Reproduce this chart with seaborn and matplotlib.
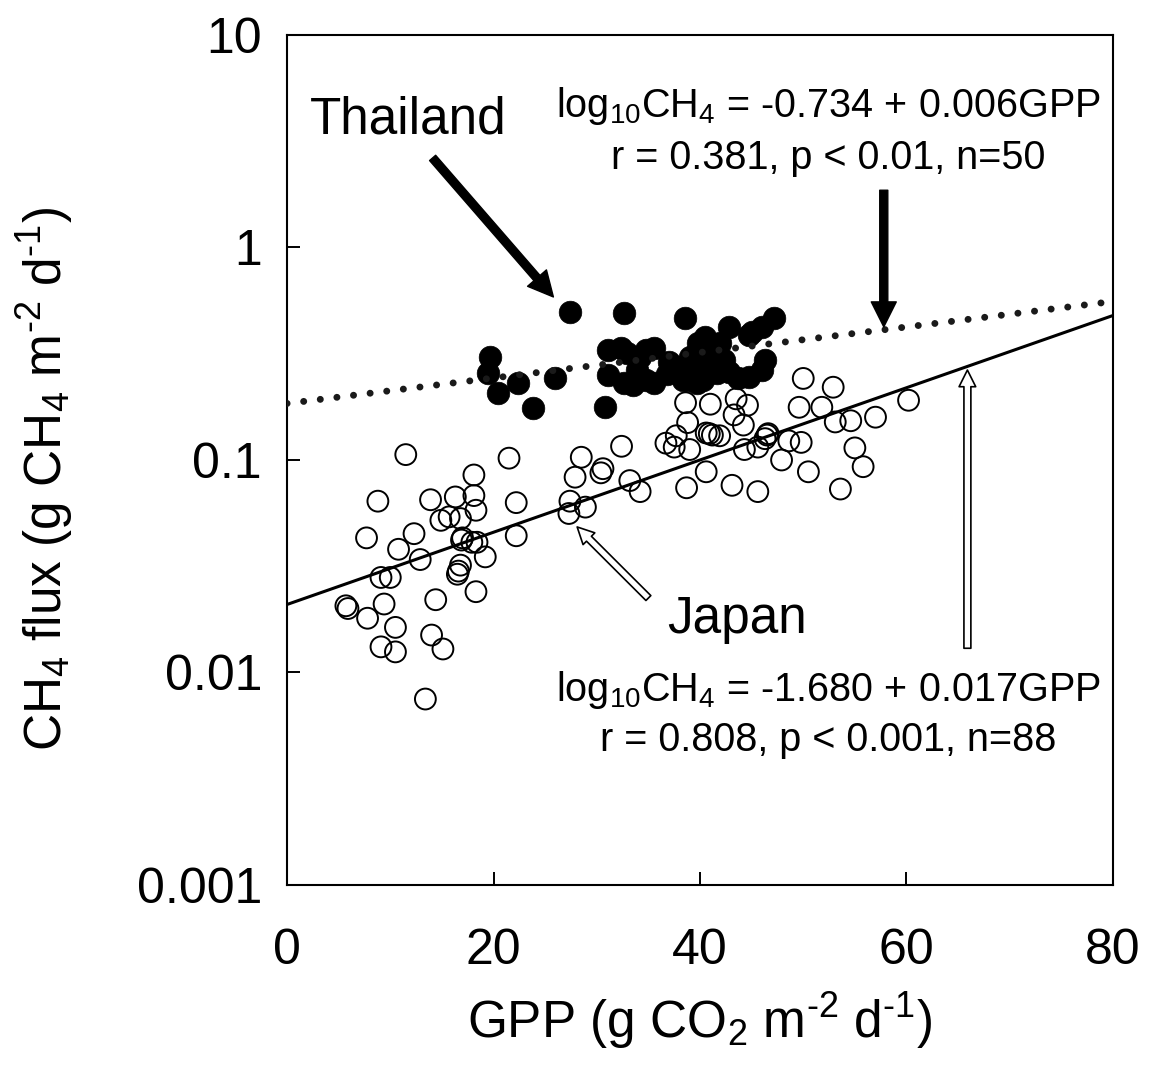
import numpy as np
import pandas as pd
import matplotlib
matplotlib.use("Agg")
import matplotlib.pyplot as plt
import seaborn as sns
from matplotlib.ticker import FixedLocator, FixedFormatter, NullLocator

# ---------------- data ----------------
japan_gpp = [11.5, 21.5, 18.1, 8.8, 13.9, 16.3, 18.1, 22.2, 18.3, 14.9,
             15.7, 16.8, 7.7, 12.3, 10.8, 22.2, 16.9, 17.9, 18.4, 19.2,
             12.9, 9.1, 10.0, 16.8, 16.5, 18.3, 5.7, 5.9, 9.4, 7.8,
             14.4, 10.5, 9.1, 10.5, 14.0, 15.1, 13.4,
             50.0, 52.9, 38.6, 41.0, 43.5, 44.6, 49.6, 51.8, 60.2,
             38.8, 43.3, 44.2, 53.1, 54.6, 57.0,
             37.7, 36.7, 37.5, 39.0, 40.6, 41.2, 41.9, 46.5, 46.3,
             44.3, 45.6, 48.6, 49.8, 55.0, 47.9, 50.5, 55.8,
             40.6, 38.7, 43.1, 45.6, 53.6,
             32.4, 28.5, 27.9, 30.4, 30.6, 33.2, 34.2, 27.4, 28.9, 27.3,
             17.0, 40.9, 16.6, 46.6]
japan_ch4 = [0.106, 0.102, 0.085, 0.064, 0.065, 0.067, 0.068, 0.063, 0.058, 0.052,
             0.054, 0.053, 0.043, 0.045, 0.038, 0.044, 0.042, 0.041, 0.041, 0.035,
             0.034, 0.028, 0.028, 0.032, 0.029, 0.024, 0.0206, 0.0200, 0.021, 0.018,
             0.022, 0.0163, 0.0132, 0.0125, 0.015, 0.0129, 0.0075,
             0.242, 0.220, 0.186, 0.183, 0.194, 0.181, 0.177, 0.177, 0.191,
             0.150, 0.163, 0.146, 0.151, 0.153, 0.159,
             0.130, 0.120, 0.115, 0.112, 0.134, 0.131, 0.130, 0.131, 0.126,
             0.112, 0.115, 0.123, 0.121, 0.114, 0.100, 0.088, 0.093,
             0.088, 0.074, 0.076, 0.071, 0.073,
             0.116, 0.103, 0.083, 0.087, 0.091, 0.080, 0.071, 0.064, 0.060, 0.056,
             0.043, 0.133, 0.030, 0.133]

thai_gpp = [19.7, 19.5, 20.4, 22.4, 23.8, 26.0, 27.4, 30.8, 31.1, 32.3,
            31.1, 32.6, 32.6, 32.9, 33.9, 34.2, 34.8, 35.5, 34.8, 35.5,
            37.9, 38.1, 38.4, 38.5, 39.0, 39.7, 39.8, 40.3, 40.5, 40.6,
            41.3, 41.6, 41.6, 41.9, 42.3, 42.8, 43.7, 44.7, 44.7, 46.0,
            46.3, 46.0, 47.2, 38.7, 36.8, 33.5, 40.0, 42.8, 37.0, 45.0]
thai_ch4 = [0.306, 0.256, 0.206, 0.231, 0.175, 0.242, 0.499, 0.178, 0.330, 0.336,
            0.251, 0.230, 0.490, 0.318, 0.265, 0.306, 0.330, 0.336, 0.238, 0.230,
            0.275, 0.256, 0.238, 0.464, 0.306, 0.230, 0.354, 0.238, 0.380, 0.318,
            0.306, 0.348, 0.256, 0.354, 0.296, 0.424, 0.242, 0.388, 0.247, 0.424,
            0.296, 0.265, 0.464, 0.238, 0.255, 0.225, 0.270, 0.260, 0.290, 0.400]

# regression coefficients (log10 CH4 = a + b * GPP)
thai_fit = (-0.734, 0.006)
japan_fit = (-1.680, 0.017)
fit_x = [0, 80]

y_ticks = [0.001, 0.01, 0.1, 1, 10]
y_tick_labels = ["0.001", "0.01", "0.1", "1", "10"]
x_ticks = [0, 20, 40, 60, 80]
x_tick_labels = ["0", "20", "40", "60", "80"]

# ---------------- style ----------------
sns.set_theme(style="ticks")
plt.rcParams["font.family"] = ["Liberation Sans", "DejaVu Sans"]
plt.rcParams["mathtext.fontset"] = "custom"
plt.rcParams["mathtext.rm"] = "Liberation Sans"
plt.rcParams["mathtext.it"] = "Liberation Sans:italic"
plt.rcParams["mathtext.bf"] = "Liberation Sans:bold"
for k in ["text.color", "axes.labelcolor", "xtick.color", "ytick.color", "axes.edgecolor"]:
    plt.rcParams[k] = "black"

fig = plt.figure(figsize=(11.5, 10.77), dpi=100)
ax = fig.add_axes([0.2496, 0.1783, 0.7182, 0.7892])

df_j = pd.DataFrame({"GPP": japan_gpp, "CH4": japan_ch4})
df_t = pd.DataFrame({"GPP": thai_gpp, "CH4": thai_ch4})

sns.scatterplot(data=df_j, x="GPP", y="CH4", ax=ax, marker="o",
                facecolor="none", edgecolor="black", linewidth=1.4, zorder=3)
ax.collections[-1].set_sizes([225])
sns.scatterplot(data=df_t, x="GPP", y="CH4", ax=ax, marker="o",
                color="black", edgecolor="black", linewidth=0.5, zorder=3)
ax.collections[-1].set_sizes([265])

fx = np.array(fit_x, dtype=float)
df_fit = pd.DataFrame({
    "GPP": fx,
    "thai": 10 ** (thai_fit[0] + thai_fit[1] * fx),
    "japan": 10 ** (japan_fit[0] + japan_fit[1] * fx),
})
sns.lineplot(data=df_fit, x="GPP", y="japan", ax=ax, color="black",
             linewidth=2.2, zorder=4)
sns.lineplot(data=df_fit, x="GPP", y="thai", ax=ax, color="#1a1a1a",
             linewidth=5.0, linestyle=(0, (0.01, 2.4)),
             dash_capstyle="round", zorder=5)

ax.set_yscale("log")
ax.set_xlim(0, 80)
ax.set_ylim(0.001, 10)
ax.yaxis.set_major_locator(FixedLocator(y_ticks))
ax.yaxis.set_major_formatter(FixedFormatter(y_tick_labels))
ax.yaxis.set_minor_locator(NullLocator())
ax.xaxis.set_major_locator(FixedLocator(x_ticks))
ax.xaxis.set_major_formatter(FixedFormatter(x_tick_labels))

ax.tick_params(axis="both", direction="in", length=9.5, width=1.4,
               labelsize=36, color="black", labelcolor="black")
ax.tick_params(axis="x", pad=31)
ax.tick_params(axis="y", pad=18)
for s in ax.spines.values():
    s.set_visible(True)
    s.set_linewidth(1.5)
    s.set_color("black")

ax.set_xlabel("GPP (g CO$\\mathregular{_2}$ m$\\mathregular{^{\u20102}}$ d$\\mathregular{^{\u20101}}$)",
              fontsize=37, color="black")
ax.set_ylabel("CH$\\mathregular{_4}$ flux (g CH$\\mathregular{_4}$ m$\\mathregular{^{\u20102}}$ d$\\mathregular{^{\u20101}}$)",
              fontsize=37, color="black")
ax.xaxis.set_label_coords(0.5, -0.124)
ax.yaxis.set_label_coords(-0.257, 0.478)

# ---------------- annotations ----------------
ax.text(11.7, 3.98, "Thailand", fontsize=37, ha="center", va="center")
ax.text(43.6, 0.0177, "Japan", fontsize=37, ha="center", va="center")

ax.text(52.4, 4.63, r"log$\mathregular{_{10}}$CH$\mathregular{_4}$ = -0.734 + 0.006GPP",
        fontsize=28.5, ha="center", va="center")
ax.text(52.4, 2.64, "r = 0.381, p < 0.01, n=50",
        fontsize=28.5, ha="center", va="center")
ax.text(52.4, 0.00828, r"log$\mathregular{_{10}}$CH$\mathregular{_4}$ = -1.680 + 0.017GPP",
        fontsize=28.5, ha="center", va="center")
ax.text(52.4, 0.00481, "r = 0.808, p < 0.001, n=88",
        fontsize=28.5, ha="center", va="center")

solid = dict(arrowstyle="simple,head_width=0.9,head_length=0.9,tail_width=0.29",
             fc="black", ec="black", mutation_scale=20, shrinkA=0, shrinkB=0)
hollow = dict(arrowstyle="simple,head_width=0.6,head_length=0.6,tail_width=0.25",
              fc="white", ec="black", lw=1.2, mutation_scale=20, shrinkA=0, shrinkB=0)

ax.annotate("", xy=(25.8, 0.585), xytext=(14.1, 2.64), arrowprops=solid, zorder=6)
ax.annotate("", xy=(57.8, 0.423), xytext=(57.8, 1.86), arrowprops=solid, zorder=6)
ax.annotate("", xy=(28.1, 0.0484), xytext=(35.0, 0.0224), arrowprops=hollow, zorder=6)
ax.annotate("", xy=(65.9, 0.265), xytext=(65.9, 0.0130), arrowprops=hollow, zorder=6)

fig.savefig("out.png", dpi=100, facecolor="white")
